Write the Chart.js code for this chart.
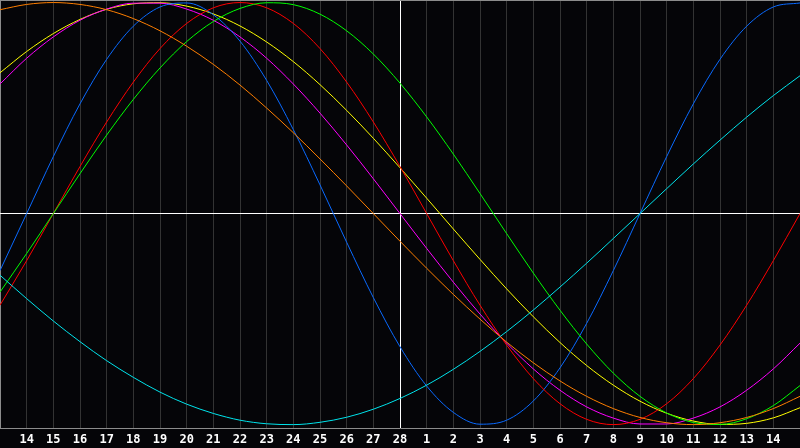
<!DOCTYPE html>
<html>
<head>
<meta charset="utf-8">
<script src="https://cdn.jsdelivr.net/npm/chart.js@4"></script>
<style>
  html, body { margin: 0; padding: 0; background: #050508; }
  #wrap { width: 800px; height: 448px; }
</style>
</head>
<body>
<div id="wrap"><canvas id="chart"></canvas></div>
<script>
// day labels (blank at both ends, the plot starts and ends half a step outside)
const days = ["", "14", "15", "16", "17", "18", "19", "20", "21", "22", "23", "24", "25", "26", "27", "28",
  "1", "2", "3", "4", "5", "6", "7", "8", "9", "10", "11", "12", "13", "14", ""];

// cycle values read per day, from the left edge to the right edge
const physical = [-0.270, 0, 0.270, 0.520, 0.731, 0.888, 0.979, 0.998, 0.942, 0.817, 0.631, 0.398, 0.136,
  -0.136, -0.398, -0.631, -0.817, -0.942, -0.998, -0.979, -0.888, -0.731, -0.520, -0.270,
  0, 0.270, 0.520, 0.731, 0.888, 0.979, 0.998];
const emotional = [-0.434, -0.223, 0, 0.223, 0.434, 0.623, 0.782, 0.901, 0.975, 1.000, 0.975, 0.901, 0.782,
  0.623, 0.434, 0.223, 0, -0.223, -0.434, -0.623, -0.782, -0.901, -0.975, -1.000, -0.975, -0.901,
  -0.782, -0.623, -0.434, -0.223, 0];
const intellectual = [-0.372, -0.189, 0, 0.189, 0.372, 0.541, 0.690, 0.815, 0.910, 0.972, 0.999, 0.990, 0.945,
  0.866, 0.756, 0.618, 0.458, 0.282, 0.095, -0.095, -0.282, -0.458, -0.618, -0.756, -0.866, -0.945,
  -0.990, -0.999, -0.972, -0.910, -0.815];
const intuitive = [0.614, 0.736, 0.837, 0.916, 0.969, 0.997, 0.997, 0.969, 0.916, 0.837, 0.736, 0.614, 0.476,
  0.325, 0.165, 0, -0.165, -0.325, -0.476, -0.614, -0.736, -0.837, -0.916, -0.969, -0.997, -0.997,
  -0.969, -0.916, -0.837, -0.736, -0.614];
const aesthetic = [0.667, 0.768, 0.853, 0.920, 0.968, 0.994, 0.999, 0.983, 0.946, 0.889, 0.813, 0.720, 0.611,
  0.489, 0.357, 0.217, 0.073, -0.073, -0.217, -0.357, -0.489, -0.611, -0.720, -0.813, -0.889, -0.946,
  -0.983, -0.999, -0.994, -0.968, -0.920];
const awareness = [0.966, 0.991, 1.000, 0.991, 0.966, 0.924, 0.866, 0.793, 0.707, 0.609, 0.500, 0.383, 0.259,
  0.131, 0, -0.131, -0.259, -0.383, -0.500, -0.609, -0.707, -0.793, -0.866, -0.924, -0.966, -0.991,
  -1.000, -0.991, -0.966, -0.924, -0.866];
const spiritual = [-0.292, -0.403, -0.509, -0.607, -0.697, -0.776, -0.846, -0.903, -0.947, -0.979, -0.996,
  -1.000, -0.989, -0.965, -0.927, -0.876, -0.813, -0.738, -0.653, -0.559, -0.457, -0.348, -0.235,
  -0.118, 0, 0.118, 0.235, 0.348, 0.457, 0.559, 0.653];

const todayLabel = 15; // index of "28"

// top border line, the rest comes from the axes
const frame = {
  id: "frame",
  afterDraw(chart) {
    const { ctx, chartArea } = chart;
    ctx.save();
    ctx.strokeStyle = "#8c8c8c";
    ctx.lineWidth = 1;
    ctx.beginPath();
    ctx.moveTo(chartArea.left, chartArea.top + 0.5);
    ctx.lineTo(chartArea.right, chartArea.top + 0.5);
    ctx.stroke();
    ctx.restore();
  }
};

const line = (data, color) => ({
  data: data,
  borderColor: color,
  borderWidth: 1,
  pointRadius: 0,
  pointHoverRadius: 0,
  cubicInterpolationMode: "monotone",
  fill: false,
});

new Chart(document.getElementById("chart"), {
  type: "line",
  data: {
    labels: days,
    datasets: [
      line(spiritual, "#00e4ec"),
      line(awareness, "#ff7f00"),
      line(intellectual, "#00ff00"),
      line(emotional, "#ff0000"),
      line(physical, "#0a6aff"),
      line(intuitive, "#ff00ff"),
      line(aesthetic, "#ffff00"),
    ],
  },
  options: {
    responsive: true,
    maintainAspectRatio: false,
    animation: false,
    layout: { autoPadding: false, padding: 0 },
    plugins: {
      legend: { display: false },
      tooltip: { enabled: false },
    },
    scales: {
      x: {
        offset: false,
        afterFit: (axis) => {
          axis.paddingLeft = 0;
          axis.paddingRight = 0;
          axis.height = 20;
        },
        grid: {
          drawTicks: false,
          lineWidth: 1,
          color: (c) => {
            if (c.index === 0) return "#8c8c8c";
            if (c.index === days.length - 1) return "transparent";
            if (c.index === todayLabel) return "#ffffff";
            return "#333333";
          },
        },
        border: { color: "#8c8c8c" },
        ticks: {
          autoSkip: false,
          maxRotation: 0,
          padding: 5,
          color: "#ffffff",
          font: { family: "DejaVu Sans Mono", size: 12, weight: "bold" },
        },
      },
      y: {
        min: -1.016,
        max: 1.012,
        afterBuildTicks: (axis) => { axis.ticks = [{ value: 0 }]; },
        ticks: { display: false },
        grid: {
          drawTicks: false,
          color: (c) => (c.tick.value === 0 ? "#ffffff" : "transparent"),
        },
        border: { display: false },
      },
    },
  },
  plugins: [frame],
});
</script>
</body>
</html>
